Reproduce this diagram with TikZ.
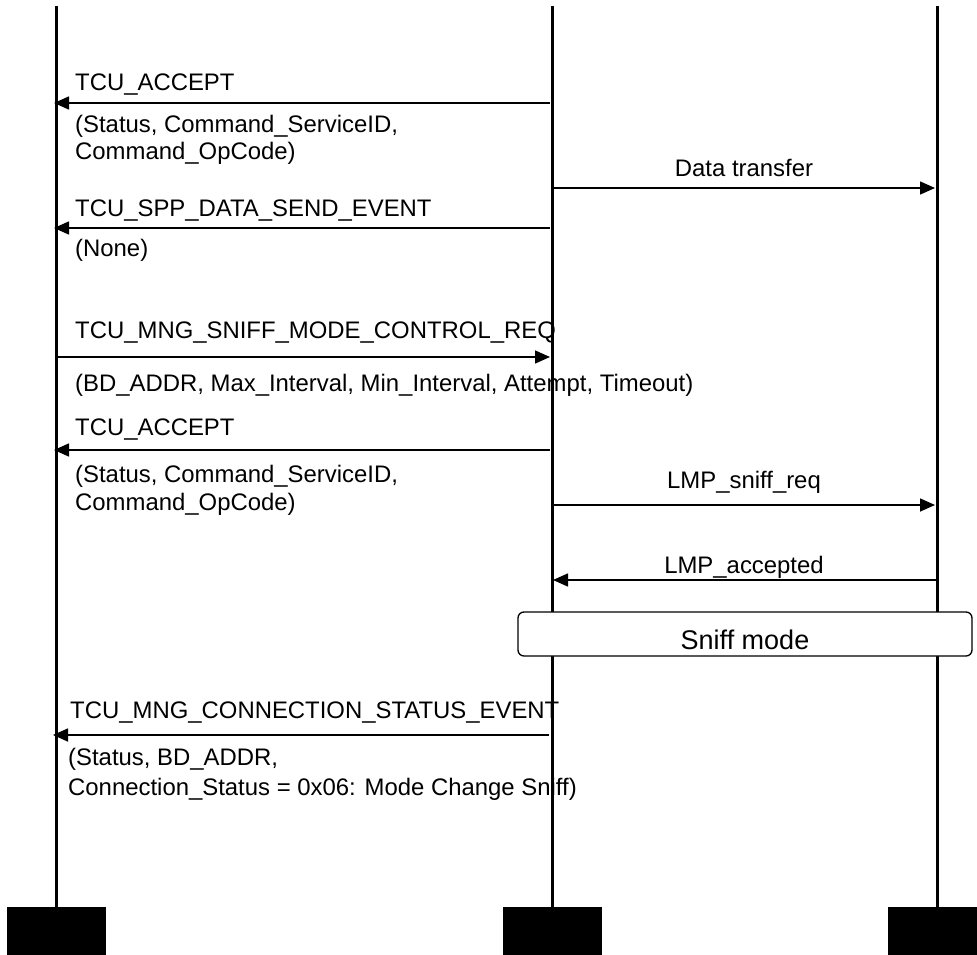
\documentclass[tikz,border=0pt]{standalone}
\usepackage{fontspec}
\setmainfont{Liberation Sans}
\usetikzlibrary{arrows.meta}
\begin{document}
\begin{tikzpicture}[x=1pt,y=-1pt,
  life/.style={line width=3pt},
  msg/.style={line width=1.6pt,-{Triangle[length=15pt,width=13pt]}},
  txt/.style={font=\fontsize{23.9}{29}\selectfont, inner sep=0pt},
  lbl/.style={txt, anchor=base west},
  clbl/.style={txt, anchor=base},
  foot/.style={fill=black, minimum width=99pt, minimum height=48pt, inner sep=0pt, anchor=north},
  phase/.style={draw, line width=1.3pt, rounded corners=6pt, fill=white, minimum width=454pt, minimum height=44pt, inner sep=0pt}
]
\useasboundingbox (0,0) rectangle (977,955);

% lifeline feet
\node[foot] (fL) at (56,907) {};
\node[foot] (fM) at (552,907) {};
\node[foot] (fR) at (937,907) {};
\coordinate (tL) at (56,6);
\coordinate (tM) at (552,6);
\coordinate (tR) at (937,6);
\draw[life] (tL) -- (fL.north);
\draw[life] (tM) -- (fM.north);
\draw[life] (tR) -- (fR.north);

% TCU_ACCEPT
\coordinate (a1s) at (550,103); \coordinate (a1e) at (54,103);
\draw[msg] (a1s) -- (a1e);
\node[lbl] (a1t) at (75,91) {TCU\_ACCEPT};
\node[lbl] (a1p) at (75,132) {(Status, Command\_ServiceID,};
\node[lbl] (a1q) at (75,160) {Command\_OpCode)};

% Data transfer
\coordinate (d1s) at (553,188); \coordinate (d1e) at (935,188);
\draw[msg] (d1s) -- (d1e);
\node[clbl] (d1t) at (744,176) {Data transfer};

% TCU_SPP_DATA_SEND_EVENT
\coordinate (a2s) at (550,228); \coordinate (a2e) at (54,228);
\draw[msg] (a2s) -- (a2e);
\node[lbl] (a2t) at (75,216) {TCU\_SPP\_DATA\_SEND\_EVENT};
\node[lbl] (a2p) at (75,256) {(None)};

% TCU_MNG_SNIFF_MODE_CONTROL_REQ
\coordinate (r1s) at (58,357); \coordinate (r1e) at (550,357);
\draw[msg] (r1s) -- (r1e);
\node[lbl] (r1t) at (75,338) {TCU\_MNG\_SNIFF\_MODE\_CONTROL\_REQ};
\node[lbl] (r1p) at (75,391) {(BD\_ADDR, Max\_Interval, Min\_Interval, Attempt, Timeout)};

% TCU_ACCEPT
\coordinate (a3s) at (550,450); \coordinate (a3e) at (54,450);
\draw[msg] (a3s) -- (a3e);
\node[lbl] (a3t) at (75,435) {TCU\_ACCEPT};
\node[lbl] (a3p) at (75,482) {(Status, Command\_ServiceID,};
\node[lbl] (a3q) at (75,510) {Command\_OpCode)};

% LMP_sniff_req
\coordinate (l1s) at (553,505); \coordinate (l1e) at (935,505);
\draw[msg] (l1s) -- (l1e);
\node[clbl] (l1t) at (744,488) {LMP\_sniff\_req};

% LMP_accepted
\coordinate (l2s) at (936,580); \coordinate (l2e) at (553,580);
\draw[msg] (l2s) -- (l2e);
\node[clbl] (l2t) at (744,573) {LMP\_accepted};

% Sniff mode
\node[phase] (sm) at (745,634) {};
\node[txt, anchor=base, font=\fontsize{27}{32}\selectfont] (smt) at (745,649) {Sniff mode};

% TCU_MNG_CONNECTION_STATUS_EVENT
\coordinate (c1s) at (549,735); \coordinate (c1e) at (53,735);
\draw[msg] (c1s) -- (c1e);
\node[lbl] (c1t) at (70,718) {TCU\_MNG\_CONNECTION\_STATUS\_EVENT};
\node[lbl] (c1p) at (68,765) {(Status, BD\_ADDR,};
\node[lbl] (c1q) at (68,795) {Connection\_Status = 0x06: Mode Change Sniff)};
\end{tikzpicture}
\end{document}
